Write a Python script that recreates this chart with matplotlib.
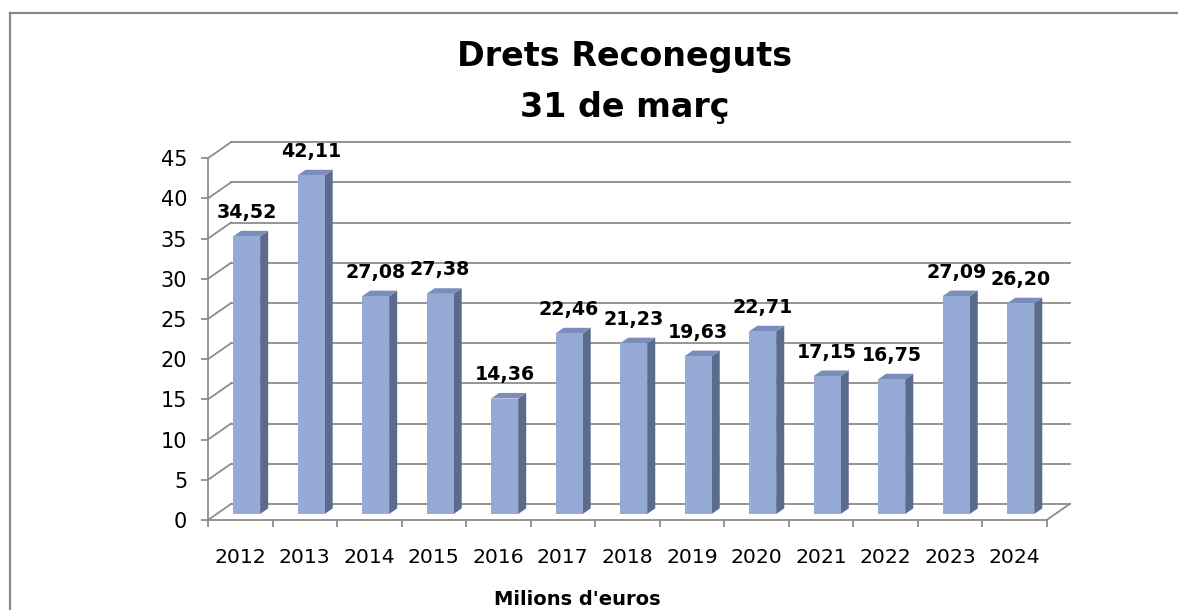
import matplotlib
matplotlib.use('Agg')
import matplotlib.pyplot as plt
from matplotlib.patches import Polygon
from matplotlib.lines import Line2D

# dades
anys = ['2012', '2013', '2014', '2015', '2016', '2017', '2018',
        '2019', '2020', '2021', '2022', '2023', '2024']
valors = [34.52, 42.11, 27.08, 27.38, 14.36, 22.46, 21.23,
          19.63, 22.71, 17.15, 16.75, 27.09, 26.20]
yticks = list(range(0, 50, 5))

# estil "3D" a l'estil Excel
gris = '#8c8c8c'
c_front = '#95aad4'
c_side = '#5b6b8c'
c_top = '#7b8ebb'
DX, DY = 0.357, 1.99      # profunditat de la caixa (unitats de dades)
bx0, bw = 0.254, 0.42     # posicio i amplada de la barra dins la categoria
f0, fd = 0.375, 0.35      # profunditat on comença la barra i el seu gruix

fig = plt.figure(figsize=(11.78, 6.10), dpi=100)
ax = fig.add_axes([208 / 1178, 90 / 610, 867 / 1178, 390 / 610])
n = len(anys)
ax.set_xlim(0, 13.44)
ax.set_ylim(0, 48.5)

# parets: linies de la graella al fons i diagonals a la paret esquerra
for t in yticks:
    ax.plot([DX, n + DX], [t + DY, t + DY], color=gris, lw=1.3, zorder=1, clip_on=False)
    ax.plot([0, DX], [t, t + DY], color=gris, lw=1.3, zorder=1, clip_on=False)
ax.plot([n, n + DX], [0, DY], color=gris, lw=1.3, zorder=1, clip_on=False)

# barres
for i, v in enumerate(valors):
    xl = i + bx0 + f0 * DX
    xr = xl + bw
    y0 = f0 * DY
    top = v + f0 * DY
    ddx, ddy = fd * DX, fd * DY
    ax.add_patch(Polygon([(xr, y0), (xr + ddx, y0 + ddy), (xr + ddx, top + ddy), (xr, top)],
                         closed=True, fc=c_side, ec='none', zorder=3))
    ax.add_patch(Polygon([(xl, top), (xr, top), (xr + ddx, top + ddy), (xl + ddx, top + ddy)],
                         closed=True, fc=c_top, ec='none', zorder=3))
    ax.add_patch(Polygon([(xl, y0), (xr, y0), (xr, top), (xl, top)],
                         closed=True, fc=c_front, ec='none', zorder=4))
    ax.text(xl + bw / 2, top + 2.3, f'{v:.2f}'.replace('.', ','),
            ha='center', va='baseline', fontsize=13.7, fontweight='bold', zorder=5)

# eixos
for s in ['top', 'right']:
    ax.spines[s].set_visible(False)
ax.spines['left'].set_bounds(0, 45)
ax.spines['bottom'].set_bounds(0, n)
for s in ['left', 'bottom']:
    ax.spines[s].set_color(gris)
    ax.spines[s].set_linewidth(1.3)
ax.set_yticks(yticks)
ax.tick_params(axis='y', length=5, width=1.3, color=gris, labelsize=15, pad=10)
ax.set_xticks([i + 0.5 for i in range(n)])
ax.set_xticklabels(anys)
ax.set_xticks(range(n + 1), minor=True)
ax.tick_params(axis='x', which='major', length=0, labelsize=14.7, pad=20)
ax.tick_params(axis='x', which='minor', length=5, width=1.3, color=gris)
ax.patch.set_alpha(0)

# titol i etiqueta
fig.text(625 / 1178, 1 - 66 / 610, 'Drets Reconeguts', ha='center', va='baseline',
         fontsize=24, fontweight='bold')
fig.text(625 / 1178, 1 - 117 / 610, '31 de març', ha='center', va='baseline',
         fontsize=24, fontweight='bold')
fig.text(577 / 1178, 1 - 605 / 610, "Milions d'euros", ha='center', va='baseline',
         fontsize=14, fontweight='bold')

# marc
fig.add_artist(Line2D([10 / 1178, 1], [1 - 13 / 610, 1 - 13 / 610], color='#888888', lw=1.6))
fig.add_artist(Line2D([10 / 1178, 10 / 1178], [0, 1 - 13 / 610], color='#888888', lw=1.6))

fig.savefig('out.png', dpi=100)
